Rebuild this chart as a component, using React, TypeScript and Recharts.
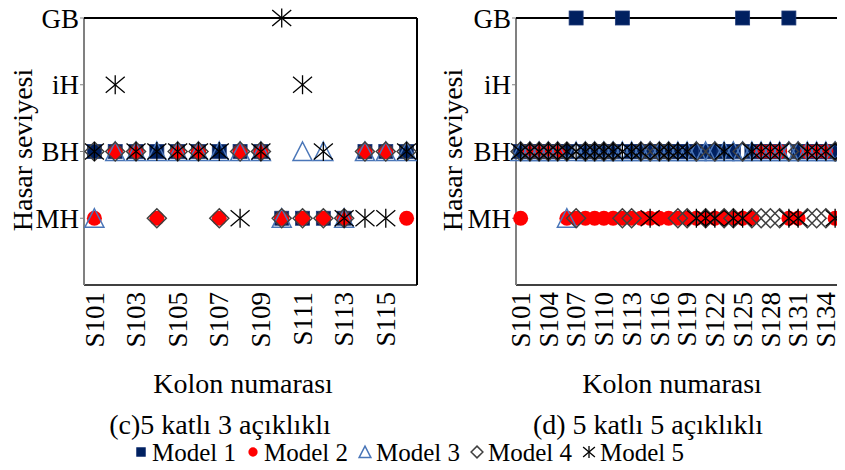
import React from 'react';
import { ComposedChart, Line, XAxis, YAxis, ReferenceLine } from 'recharts';

const FONT = '"Liberation Serif", "Times New Roman", serif';

// damage levels (index = numeric level on the y axis)
const LEVELS = ['', 'MH', 'BH', 'iH', 'GB'];
const LEVEL_TICKS = [1, 2, 3, 4];

// (c) 5 storeys, 3 spans
const colsC = ['S101', 'S102', 'S103', 'S104', 'S105', 'S106', 'S107', 'S108',
  'S109', 'S110', 'S111', 'S112', 'S113', 'S114', 'S115', 'S116'];
const tickLabelsC = ['S101', 'S103', 'S105', 'S107', 'S109', 'S111', 'S113', 'S115'];
const c_m1 = ['BH', 'BH', 'BH', 'BH', 'BH', 'BH', 'BH', 'BH', 'BH', 'MH', 'MH', 'MH', 'MH', 'BH', 'BH', 'BH'];
const c_m2 = ['MH', 'BH', 'BH', 'MH', 'BH', 'BH', 'MH', 'BH', 'BH', 'MH', 'MH', 'MH', 'MH', 'BH', 'BH', 'MH'];
const c_m3 = ['MH', 'BH', 'BH', 'BH', 'BH', 'BH', 'BH', 'BH', 'BH', 'MH', 'BH', 'BH', 'MH', 'BH', 'BH', 'BH'];
const c_m4 = ['BH', 'BH', 'BH', 'MH', 'BH', 'BH', 'MH', 'BH', 'BH', 'MH', 'MH', 'MH', 'MH', 'BH', 'BH', 'BH'];
const c_m5 = ['BH', 'iH', 'BH', 'BH', 'BH', 'BH', 'BH', 'MH', 'BH', 'GB', 'iH', 'BH', 'MH', 'MH', 'MH', 'BH'];

// (d) 5 storeys, 5 spans
const colsD = ['S101', 'S102', 'S103', 'S104', 'S105', 'S106', 'S107', 'S108', 'S109',
  'S110', 'S111', 'S112', 'S113', 'S114', 'S115', 'S116', 'S117', 'S118', 'S119',
  'S120', 'S121', 'S122', 'S123', 'S124', 'S125', 'S126', 'S127', 'S128', 'S129',
  'S130', 'S131', 'S132', 'S133', 'S134', 'S135', 'S136'];
const tickLabelsD = ['S101', 'S104', 'S107', 'S110', 'S113', 'S116', 'S119', 'S122',
  'S125', 'S128', 'S131', 'S134'];
const d_m1 = [
  'BH', 'BH', 'BH', 'BH', 'BH', 'BH',
  'GB', 'BH', 'BH', 'BH', 'BH', 'GB',
  'BH', 'BH', 'BH', 'BH', 'BH', 'BH',
  'BH', 'BH', 'BH', 'BH', 'BH', 'BH',
  'GB', 'BH', 'BH', 'BH', 'BH', 'GB',
  'BH', 'BH', 'BH', 'BH', 'BH', 'BH'];
const d_m2 = [
  'MH', 'BH', 'BH', 'BH', 'BH', 'MH',
  'MH', 'MH', 'MH', 'MH', 'MH', 'MH',
  'MH', 'MH', 'MH', 'MH', 'MH', 'MH',
  'MH', 'MH', 'MH', 'MH', 'MH', 'MH',
  'MH', 'MH', 'BH', 'BH', 'BH', 'MH',
  'MH', 'BH', 'BH', 'BH', 'MH', 'MH'];
const d_m3 = [
  'BH', 'BH', 'BH', 'BH', 'BH', 'MH',
  'BH', 'BH', 'BH', 'BH', 'BH', 'BH',
  'BH', 'BH', 'BH', 'BH', 'BH', 'BH',
  'BH', 'BH', 'BH', 'BH', 'BH', 'BH',
  'BH', 'BH', 'BH', 'BH', 'BH', 'BH',
  'BH', 'BH', 'BH', 'BH', 'BH', 'BH'];
const d_m4 = [
  'BH', 'BH', 'BH', 'BH', 'BH', 'BH',
  'MH', 'BH', 'BH', 'BH', 'BH', 'MH',
  'MH', 'BH', 'BH', 'BH', 'BH', 'MH',
  'MH', 'BH', 'MH', 'BH', 'MH', 'MH',
  'BH', 'MH', 'MH', 'MH', 'MH', 'BH',
  'BH', 'MH', 'MH', 'MH', 'BH', 'MH'];
const d_m5 = [
  'BH', 'BH', 'BH', 'BH', 'BH', 'BH',
  'BH', 'BH', 'BH', 'BH', 'BH', 'BH',
  'BH', 'BH', 'MH', 'BH', 'BH', 'BH',
  'BH', 'MH', 'MH', 'MH', 'BH', 'MH',
  'MH', 'BH', 'BH', 'BH', 'BH', 'MH',
  'MH', 'BH', 'BH', 'BH', 'MH', 'BH'];

const SERIES = [
  { key: 'm1', name: 'Model 1', shape: 'square' },
  { key: 'm2', name: 'Model 2', shape: 'circle' },
  { key: 'm3', name: 'Model 3', shape: 'triangle' },
  { key: 'm4', name: 'Model 4', shape: 'diamond' },
  { key: 'm5', name: 'Model 5', shape: 'star' },
];

const buildRows = (cols: string[], m: string[][]) =>
  cols.map((col, i) => ({
    i: i + 1,
    col,
    m1: LEVELS.indexOf(m[0][i]),
    m2: LEVELS.indexOf(m[1][i]),
    m3: LEVELS.indexOf(m[2][i]),
    m4: LEVELS.indexOf(m[3][i]),
    m5: LEVELS.indexOf(m[4][i]),
  }));

const rowsC = buildRows(colsC, [c_m1, c_m2, c_m3, c_m4, c_m5]);
const rowsD = buildRows(colsD, [d_m1, d_m2, d_m3, d_m4, d_m5]);

const Marker = ({ shape, cx, cy, s = 1 }: { shape: string; cx: number; cy: number; s?: number }) => {
  switch (shape) {
    case 'square':
      return <rect x={cx - 7 * s} y={cy - 7 * s} width={14 * s} height={14 * s} fill="#002060" stroke="#1f3a78" strokeWidth={0.8} />;
    case 'circle':
      return <circle cx={cx} cy={cy} r={7.5 * s} fill="#FF0000" />;
    case 'triangle':
      return (
        <polygon
          points={`${cx},${cy - 9.5 * s} ${cx + 9.5 * s},${cy + 9 * s} ${cx - 9.5 * s},${cy + 9 * s}`}
          fill="none" stroke="#4a76b8" strokeWidth={1.5} />
      );
    case 'diamond':
      return (
        <polygon
          points={`${cx},${cy - 9.5 * s} ${cx + 9.5 * s},${cy} ${cx},${cy + 9.5 * s} ${cx - 9.5 * s},${cy}`}
          fill="none" stroke="#404040" strokeWidth={1.5} />
      );
    default:
      return (
        <g stroke="#000" strokeWidth={1.3}>
          <line x1={cx} y1={cy - 9.5 * s} x2={cx} y2={cy + 9.5 * s} />
          <line x1={cx - 9.5 * s} y1={cy - 8 * s} x2={cx + 9.5 * s} y2={cy + 8 * s} />
          <line x1={cx - 9.5 * s} y1={cy + 8 * s} x2={cx + 9.5 * s} y2={cy - 8 * s} />
        </g>
      );
  }
};

const dotFor = (shape: string) => (props: any) => {
  const { cx, cy, index } = props;
  if (cx == null || cy == null) return <g key={`${shape}-${index}`} />;
  return (
    <g key={`${shape}-${index}`}>
      <Marker shape={shape} cx={cx} cy={cy} />
    </g>
  );
};

const makeTick = (cols: string[]) => (props: any) => {
  const { x, y, payload } = props;
  return (
    <text
      x={x}
      y={y + 7}
      transform={`rotate(-90, ${x}, ${y + 7})`}
      textAnchor="end"
      dy="0.34em"
      fontSize={27}
      fontFamily={FONT}
      fill="#000"
    >
      {cols[payload.value - 1]}
    </text>
  );
};

const Panel = ({ rows, cols, tickLabels, width, rightBorder }: any) => {
  const n = cols.length;
  const tickIdx = tickLabels.map((t: string) => cols.indexOf(t) + 1);
  return (
    <ComposedChart
      width={width}
      height={370}
      data={rows}
      margin={{ top: 18, right: width - 84 - 333, bottom: 0, left: 0 }}
    >
      <XAxis
        type="number"
        dataKey="i"
        domain={[0.5, n + 0.5]}
        ticks={tickIdx}
        interval={0}
        tickLine={false}
        tickSize={0}
        tickMargin={0}
        height={85}
        axisLine={false}
        tick={makeTick(cols)}
      />
      <YAxis
        type="number"
        domain={[0, 4]}
        ticks={LEVEL_TICKS}
        interval={0}
        width={84}
        tickSize={4}
        tickMargin={1}
        tickFormatter={(v: number) => LEVELS[v]}
        tick={{ fontSize: 27, fontFamily: FONT, fill: '#000' }}
        tickLine={{ stroke: '#808080' }}
        axisLine={false}
      />
      <ReferenceLine y={0} stroke="#404040" strokeWidth={2} ifOverflow="visible" />
      <ReferenceLine x={0.5} stroke="#808080" strokeWidth={2} ifOverflow="visible" />
      <ReferenceLine y={4} stroke="#000" strokeWidth={2} ifOverflow="visible" />
      {rightBorder && <ReferenceLine x={n + 0.5} stroke="#000" strokeWidth={2} ifOverflow="visible" />}
      {SERIES.map((s) => (
        <Line
          key={s.key}
          dataKey={s.key}
          name={s.name}
          stroke="none"
          isAnimationActive={false}
          activeDot={false}
          dot={dotFor(s.shape)}
        />
      ))}
    </ComposedChart>
  );
};

export default function App() {
  const legendX0 = 141;
  const legendStep = 112;
  return (
    <div style={{ position: 'relative', width: 845, height: 470, margin: -8, overflow: 'hidden', background: '#fff' }}>
      <div style={{ position: 'absolute', left: 0, top: 0 }}>
        <Panel rows={rowsC} cols={colsC} tickLabels={tickLabelsC} width={430} rightBorder />
      </div>
      <div style={{ position: 'absolute', left: 432, top: 0 }}>
        <Panel rows={rowsD} cols={colsD} tickLabels={tickLabelsD} width={440} rightBorder={false} />
      </div>
      <svg width={845} height={470} style={{ position: 'absolute', left: 0, top: 0, pointerEvents: 'none' }}>
        <g fontFamily={FONT} fontSize={28} fill="#000">
          <text x={22} y={150} transform="rotate(-90, 22, 150)" textAnchor="middle" dominantBaseline="central">Hasar seviyesi</text>
          <text x={452} y={150} transform="rotate(-90, 452, 150)" textAnchor="middle" dominantBaseline="central">Hasar seviyesi</text>
          <text x={243} y={383} textAnchor="middle" dominantBaseline="central">Kolon numarası</text>
          <text x={672} y={383} textAnchor="middle" dominantBaseline="central">Kolon numarası</text>
          <text x={220} y={424} textAnchor="middle" dominantBaseline="central">(c)5 katlı 3 açıklıklı</text>
          <text x={648} y={424} textAnchor="middle" dominantBaseline="central">(d) 5 katlı 5 açıklıklı</text>
        </g>
        <g fontFamily={FONT} fontSize={25} fill="#000">
          {SERIES.map((s, i) => {
            const mx = legendX0 + i * legendStep;
            return (
              <g key={s.key}>
                <Marker shape={s.shape} cx={mx} cy={452} s={0.62} />
                <text x={mx + 11} y={452} dominantBaseline="central">{s.name}</text>
              </g>
            );
          })}
        </g>
      </svg>
    </div>
  );
}
